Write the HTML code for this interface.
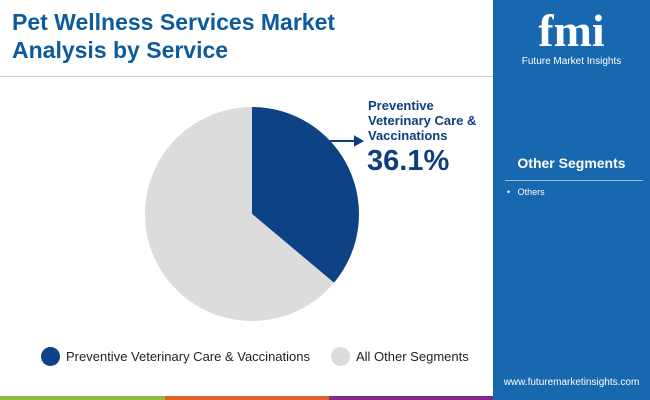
<!DOCTYPE html>
<html><head><meta charset="utf-8"><style>
body{margin:0;width:650px;height:400px;overflow:hidden;background:#fff;font-family:"Liberation Sans",sans-serif;position:relative}
.abs{position:absolute}
</style></head><body>
<div class="abs" style="left:12px;top:8px;font-size:23px;font-weight:bold;color:#0d5a9c;line-height:28px">Pet Wellness Services Market<br>Analysis by Service</div>
<div class="abs" style="left:0;top:76px;width:493px;height:1px;background:#ccc"></div>
<div class="abs" style="left:493px;top:0;width:157px;height:400px;background:#1768ae"></div>
<div class="abs" style="left:493px;top:6px;width:157px;text-align:center;color:#fff">
<div style="font-size:46px;font-weight:bold;font-family:'Liberation Serif',serif;line-height:50px">fmi</div>
<div style="font-size:10px">Future Market Insights</div></div>
<div class="abs" style="left:493px;top:155px;width:157px;text-align:center;color:#fff;font-weight:bold;font-size:14px">Other Segments</div>
<div class="abs" style="left:505px;top:180px;width:138px;height:1px;background:#9cc0e0"></div>
<div class="abs" style="left:507px;top:187px;color:#fff;font-size:9px">•&nbsp;&nbsp;&nbsp;Others</div>
<div class="abs" style="left:493px;top:377px;width:157px;text-align:center;color:#fff;font-size:10px">www.futuremarketinsights.com</div>
<div class="abs" style="left:0;top:396px;width:165px;height:4px;background:#8dbb45"></div>
<div class="abs" style="left:165px;top:396px;width:164px;height:4px;background:#e0622a"></div>
<div class="abs" style="left:329px;top:396px;width:164px;height:4px;background:#812a8a"></div>
<svg class="abs" style="left:0;top:0" width="493" height="396" id="pie"></svg>
<div class="abs" style="left:368px;top:98px;color:#0d3f7c;font-weight:bold;font-size:13px;line-height:15px">Preventive<br>Veterinary Care &amp;<br>Vaccinations</div>
<div class="abs" style="left:367px;top:145px;color:#0d3f7c;font-weight:bold;font-size:29px">36.1%</div>
<div class="abs" style="left:41px;top:347px;font-size:13px;color:#222;display:flex;align-items:center">
<span style="width:19px;height:19px;border-radius:50%;background:#0d4285;display:inline-block;margin-right:6px"></span><span>Preventive Veterinary Care &amp; Vaccinations</span>
<span style="width:19px;height:19px;border-radius:50%;background:#dcdcdc;display:inline-block;margin:0 6px 0 21px"></span><span>All Other Segments</span></div>
<script>
const categories=["Preventive Veterinary Care & Vaccinations","All Other Segments"];
const values=[36.1,63.9];
const colors=["#0d4285","#dcdcdc"];
const svg=document.getElementById('pie');
const cx=252,cy=214,r=107,NS="http://www.w3.org/2000/svg";
const total=values.reduce((a,b)=>a+b,0);
let a0=-Math.PI/2;
values.forEach((v,i)=>{
 const a1=a0+v/total*2*Math.PI;
 const p=document.createElementNS(NS,'path');
 const large=(a1-a0)>Math.PI?1:0;
 p.setAttribute('d',`M${cx},${cy}L${cx+r*Math.cos(a0)},${cy+r*Math.sin(a0)}A${r},${r} 0 ${large} 1 ${cx+r*Math.cos(a1)},${cy+r*Math.sin(a1)}Z`);
 p.setAttribute('fill',colors[i]);
 
 
 svg.appendChild(p);
 a0=a1;
});
const ln=document.createElementNS(NS,'path');
ln.setAttribute('d','M330,141L360,141M355,137L362,141L355,145Z');
ln.setAttribute('stroke','#0d3f7c');ln.setAttribute('stroke-width','2');ln.setAttribute('fill','#0d3f7c');


svg.appendChild(ln);
</script>
</body></html>
